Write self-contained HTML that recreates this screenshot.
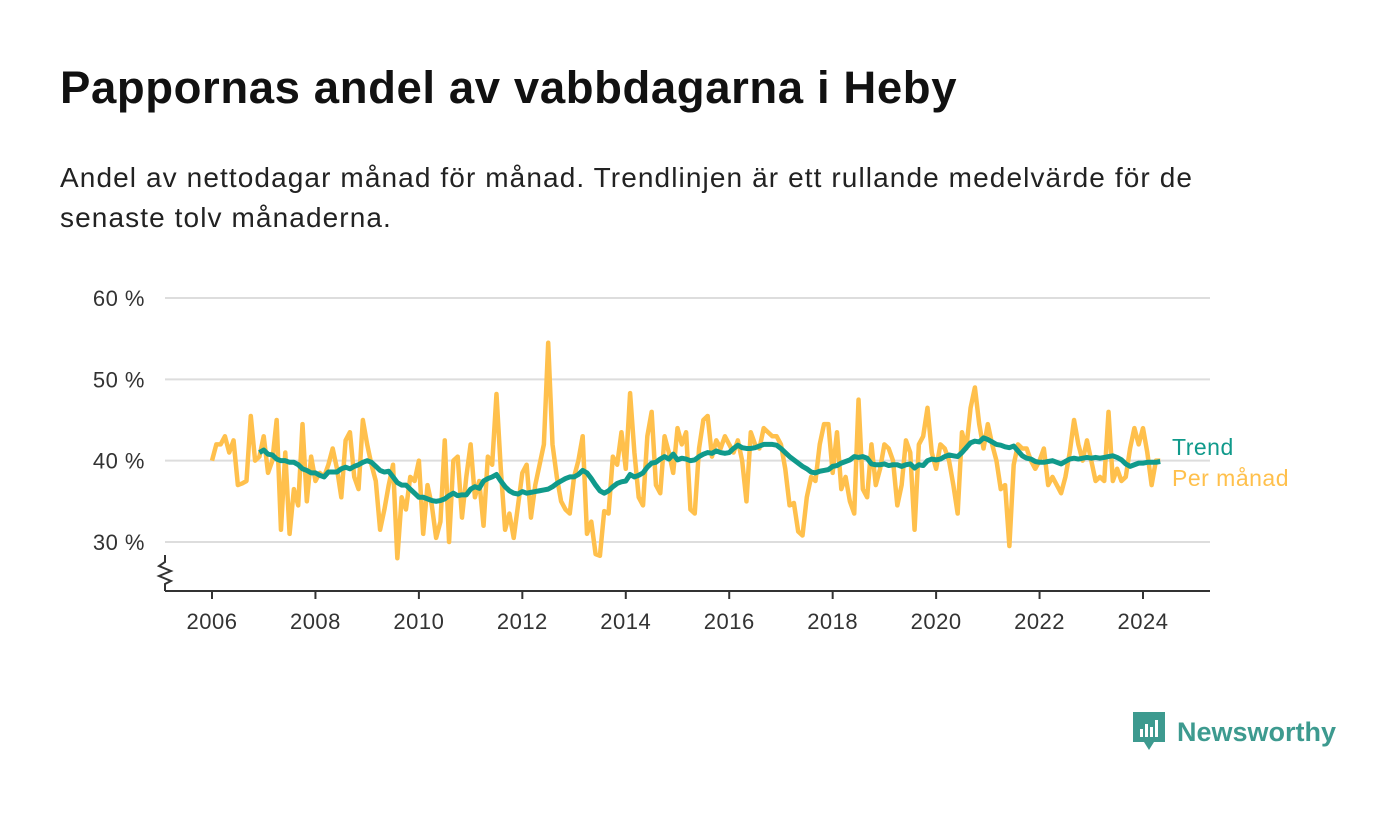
<!DOCTYPE html>
<html><head><meta charset="utf-8"><style>
body{margin:0;background:#fff;width:1400px;height:813px;overflow:hidden;font-family:"Liberation Sans","DejaVu Sans",sans-serif;}
h1{position:absolute;left:60px;top:62px;margin:0;font-size:45.5px;font-weight:bold;color:#111;letter-spacing:0.6px;}
p{position:absolute;left:60px;top:158px;margin:0;font-size:28px;line-height:40px;color:#222;width:1180px;letter-spacing:1.1px;}
</style></head><body>
<h1>Pappornas andel av vabbdagarna i Heby</h1>
<p>Andel av nettodagar månad för månad. Trendlinjen är ett rullande medelvärde för de senaste tolv månaderna.</p>
<svg id="chart" width="1400" height="813" style="position:absolute;left:0;top:0" xmlns="http://www.w3.org/2000/svg"></svg>
<div style="position:absolute;left:1133px;top:712px;display:flex;align-items:center;">
<svg width="34" height="40"><path d="M0 0H32V30H21L16 38L11 30H0Z" fill="#3d9a8f"/><rect x="7" y="17" width="3" height="8" fill="#fff"/><rect x="12" y="12" width="3" height="13" fill="#fff"/><rect x="17" y="15" width="3" height="10" fill="#fff"/><rect x="22" y="8" width="3" height="17" fill="#fff"/></svg>
<span style="font-size:27px;font-weight:bold;color:#3d9a8f;margin-left:10px;">Newsworthy</span></div>
<script>
const yTicks=[30,40,50,60];
const xTickYears=[2006,2008,2010,2012,2014,2016,2018,2020,2022,2024];
const monthly=[
40,42,42,43,41,42.5,37,37.2,37.5,45.5,40,40.5,
43,38.5,40,45,31.5,41,31,36.5,34.5,44.5,35,40.5,
37.5,38.5,38,39.5,41.5,39,35.5,42.5,43.5,38,36.5,45,
42,39.5,37.5,31.5,34,37,39.5,28,35.5,34,38,37.5,
40,31,37,34.5,30.5,32.5,42.5,30,40,40.5,33,38,
42,35.5,37.5,32,40.5,39.5,48.2,39,31.5,33.5,30.5,34.5,
38.5,39.5,33,37,39.5,42,54.5,42,38,35,34,33.5,
38,40,43,31,32.5,28.5,28.3,33.8,33.5,40.5,39.5,43.5,
39,48.3,41,35.5,34.5,43,46,37,36,43,41,38.5,
44,42,43.5,34,33.5,41.5,45,45.5,40.5,42.5,41.5,43,
42,41,42.5,40,35,43.5,42,41.5,44,43.5,43,43,
42,39,34.5,34.8,31.3,30.8,35.5,38,37.5,42,44.5,44.5,
38.5,43.5,36.5,38,35,33.5,47.5,36.5,35.5,42,37,39,
42,41.5,40,34.5,37,42.5,41,31.5,42,43,46.5,41,
39,42,41.5,40,37,33.5,43.5,41.5,46.5,49,44.5,41.5,
44.5,42,40,36.5,37,29.5,39.5,42,41.5,41.5,40,39,
40,41.5,37,38,37,36,38,41,45,42,40,42.5,
40,37.5,38,37.5,46,37.5,39,37.5,38,41.5,44,42,
44,41,37,40,40];
const trendStart=11;
const trend=[41,
41.3,40.8,40.7,40.2,40,40,39.8,39.8,39.5,39,38.8,38.5,
38.5,38.2,38,38.6,38.6,38.6,39,39.2,39,39.3,39.5,39.8,
40,39.8,39.3,38.8,38.6,38.7,38,37.3,37,37,36.5,36,
35.5,35.5,35.3,35.1,35,35.1,35.3,35.7,36,35.7,35.8,35.8,
36.5,36.8,36.6,37.5,37.8,38,38.3,37.5,36.8,36.3,36,35.9,
36.2,36,36.1,36.2,36.3,36.4,36.5,36.8,37.2,37.5,37.8,38,
38,38.3,38.8,38.5,37.8,37,36.3,36,36.3,36.8,37.2,37.4,
37.5,38.3,38,38.2,38.5,39.2,39.7,39.8,40.2,40.5,40.2,40.8,
40.1,40.3,40.2,40,40.1,40.5,40.8,41,40.9,41.2,41,40.9,
41,41.5,41.9,41.6,41.5,41.5,41.6,41.8,42,42,42,41.9,
41.5,41,40.5,40.1,39.7,39.3,39,38.6,38.5,38.7,38.8,38.9,
39.3,39.4,39.7,39.9,40.1,40.5,40.4,40.5,40.3,39.6,39.5,39.5,
39.6,39.4,39.5,39.5,39.3,39.5,39.6,39.1,39.5,39.4,40,40.2,
40.1,40.2,40.5,40.7,40.6,40.5,41,41.6,42.2,42.4,42.3,42.8,
42.6,42.3,42,41.9,41.7,41.6,41.8,41.2,40.6,40.3,40.2,39.9,
39.8,39.8,39.9,40,39.8,39.6,39.9,40.2,40.3,40.2,40.3,40.4,
40.3,40.4,40.3,40.4,40.5,40.6,40.4,40.1,39.6,39.3,39.5,39.7,
39.7,39.8,39.8,39.8,39.9];
const svg=document.getElementById('chart');
const NS='http://www.w3.org/2000/svg';
const x=m=>212+m*(931/216);
const y=v=>542-(v-30)*8.133;
function mk(t,a,p){const e=document.createElementNS(NS,t);for(const k in a)e.setAttribute(k,a[k]);(p||svg).appendChild(e);return e;}
yTicks.forEach(v=>{
 const g=mk('line',{x1:165,x2:1210,y1:y(v),y2:y(v),stroke:'#ddd','stroke-width':2});
 
 
 const t=mk('text',{x:145,y:y(v)+8,'text-anchor':'end','font-size':22,'letter-spacing':0.5,fill:'#333'});
 t.textContent=v+' %';
 
 
});
const ax=mk('line',{x1:165,x2:1210,y1:591,y2:591,stroke:'#333','stroke-width':2});


const zz=mk('path',{d:'M165 555V562L159 566L171 571L159 576L171 581L165 584V591',fill:'none',stroke:'#333','stroke-width':2});


xTickYears.forEach(yr=>{
 const xx=x((yr-2006)*12);
 const l=mk('line',{x1:xx,x2:xx,y1:591,y2:599,stroke:'#333','stroke-width':2});
 
 
 const t=mk('text',{x:xx,y:629,'text-anchor':'middle','font-size':22,'letter-spacing':0.5,fill:'#333'});
 t.textContent=yr;
 
 
});
const mp=mk('polyline',{points:monthly.map((v,i)=>x(i)+','+y(v)).join(' '),fill:'none',stroke:'#ffc04c','stroke-width':4.5,'stroke-linejoin':'round'});


const tp=mk('polyline',{points:trend.map((v,i)=>x(i+trendStart)+','+y(v)).join(' '),fill:'none',stroke:'#109a8b','stroke-width':5,'stroke-linejoin':'round'});


const l1=mk('text',{x:1172,y:455,'font-size':23,'letter-spacing':0.5,fill:'#109a8b'});
l1.textContent='Trend';


const l2=mk('text',{x:1172,y:486,'font-size':23,'letter-spacing':0.5,fill:'#ffc04c'});
l2.textContent='Per månad';


</script>
</body></html>
